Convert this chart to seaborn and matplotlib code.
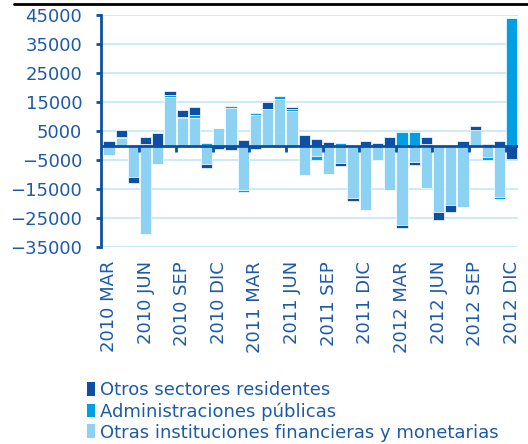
import seaborn as sns
import pandas as pd
import numpy as np
import matplotlib
matplotlib.use("Agg")
import matplotlib.pyplot as plt
from matplotlib.patches import Patch
from matplotlib.lines import Line2D

meses = ['ENE', 'FEB', 'MAR', 'ABR', 'MAY', 'JUN', 'JUL', 'AGO', 'SEP', 'OCT', 'NOV', 'DIC']
periodos = [f'{a} {m}' for a in (2010, 2011, 2012) for m in meses][2:]

# Otras instituciones financieras y monetarias
otras_ifm = [-3200, 2700, -10900, -30400, -6300, 16700, 9500, 9500, -6300, 6000,
             12900, -15200, 10400, 12700, 15900, 11800, -10100, -3700, -9700, -5900,
             -18100, -22400, -5100, -15200, -27500, -5700, -14700, -22900, -20400, -21300,
             5200, -4000, -17600, 0]
# Administraciones publicas
admin_pub = [0, 400, 0, 500, 0, 550, 400, 1150, 900, 0,
             800, -1000, 800, 0, 1200, 700, 0, -1200, 0, 1000,
             0, 0, 0, 0, 4800, 4600, 600, 0, 0, 0,
             0, -900, -800, 44000]
# Otros sectores residentes
otros_sr = [1500, 2200, -2000, 2300, 4400, 1500, 2200, 2750, -1500, -1200,
            -1400, 2000, -1200, 2300, -500, 900, 3700, 2400, 1200, -1300,
            -900, 1500, 1000, 2900, -1000, -1100, 2200, -2900, -2500, 1500,
            1400, 600, 1400, -4500]

series = [
    ('Otras instituciones financieras y monetarias', otras_ifm, '#8dd1f3'),
    ('Administraciones públicas', admin_pub, '#009fe3'),
    ('Otros sectores residentes', otros_sr, '#0d4fa3'),
]

azul_txt = '#1d5aa8'
azul_osc = '#0d4fa3'

sns.set_style('white')
plt.rcParams['font.family'] = ['DejaVu Sans']

fig = plt.figure(figsize=(5.28, 4.44), dpi=100)
ax = fig.add_axes([0.1913, 0.4437, 0.7907, 0.5225])

pos = np.zeros(len(periodos))
neg = np.zeros(len(periodos))
for nombre, vals, color in series:
    v = np.array(vals, dtype=float)
    base = np.where(v >= 0, pos, neg)
    df = pd.DataFrame({'periodo': periodos, 'valor': v})
    sns.barplot(data=df, x='periodo', y='valor', color=color, ax=ax,
                width=0.92, bottom=base, edgecolor='white', linewidth=0.5,
                saturation=1, zorder=3)
    pos = pos + np.where(v >= 0, v, 0)
    neg = neg + np.where(v < 0, v, 0)

ax.set_ylim(-35000, 45000)
ax.set_xlim(-0.65, 33.55)
ax.set_yticks(np.arange(-35000, 45001, 10000))
ax.yaxis.grid(True, color='#c3e6f6', linewidth=1.2, zorder=0)
ax.set_axisbelow(True)
ax.axhline(0, color=azul_osc, linewidth=2, zorder=4)
# marcas trimestrales sobre el eje cero
ax.vlines(np.arange(2.5, 33, 3), -2200, 0, color=azul_osc, linewidth=2, zorder=4)

idx = list(range(0, len(periodos), 3))
ax.set_xticks(idx)
ax.set_xticklabels([periodos[i] for i in idx], rotation=90)
ax.set_xlabel('')
ax.set_ylabel('')

for s in ['top', 'right', 'bottom']:
    ax.spines[s].set_visible(False)
ax.spines['left'].set_color(azul_osc)
ax.spines['left'].set_linewidth(2)
ax.tick_params(axis='y', left=True, length=3.5, width=2, color=azul_osc,
               pad=10, labelsize=13, labelcolor=azul_txt)
ax.tick_params(axis='x', length=0, pad=10, labelsize=13, labelcolor=azul_txt)

handles = [Patch(facecolor=c, edgecolor='none') for _, _, c in series[::-1]]
labels = [n for n, _, _ in series[::-1]]
fig.legend(handles, labels, loc='upper left', bbox_to_anchor=(0.165, 0.141),
           frameon=False, fontsize=13, labelcolor=azul_txt, handlelength=0.45,
           handleheight=0.8, handletextpad=0.25, labelspacing=0.16,
           borderpad=0, borderaxespad=0)

fig.add_artist(Line2D([14 / 528, 1], [1 - 3.7 / 444, 1 - 3.7 / 444],
                      transform=fig.transFigure, color='black', linewidth=2))

fig.savefig('out.png', dpi=100)
